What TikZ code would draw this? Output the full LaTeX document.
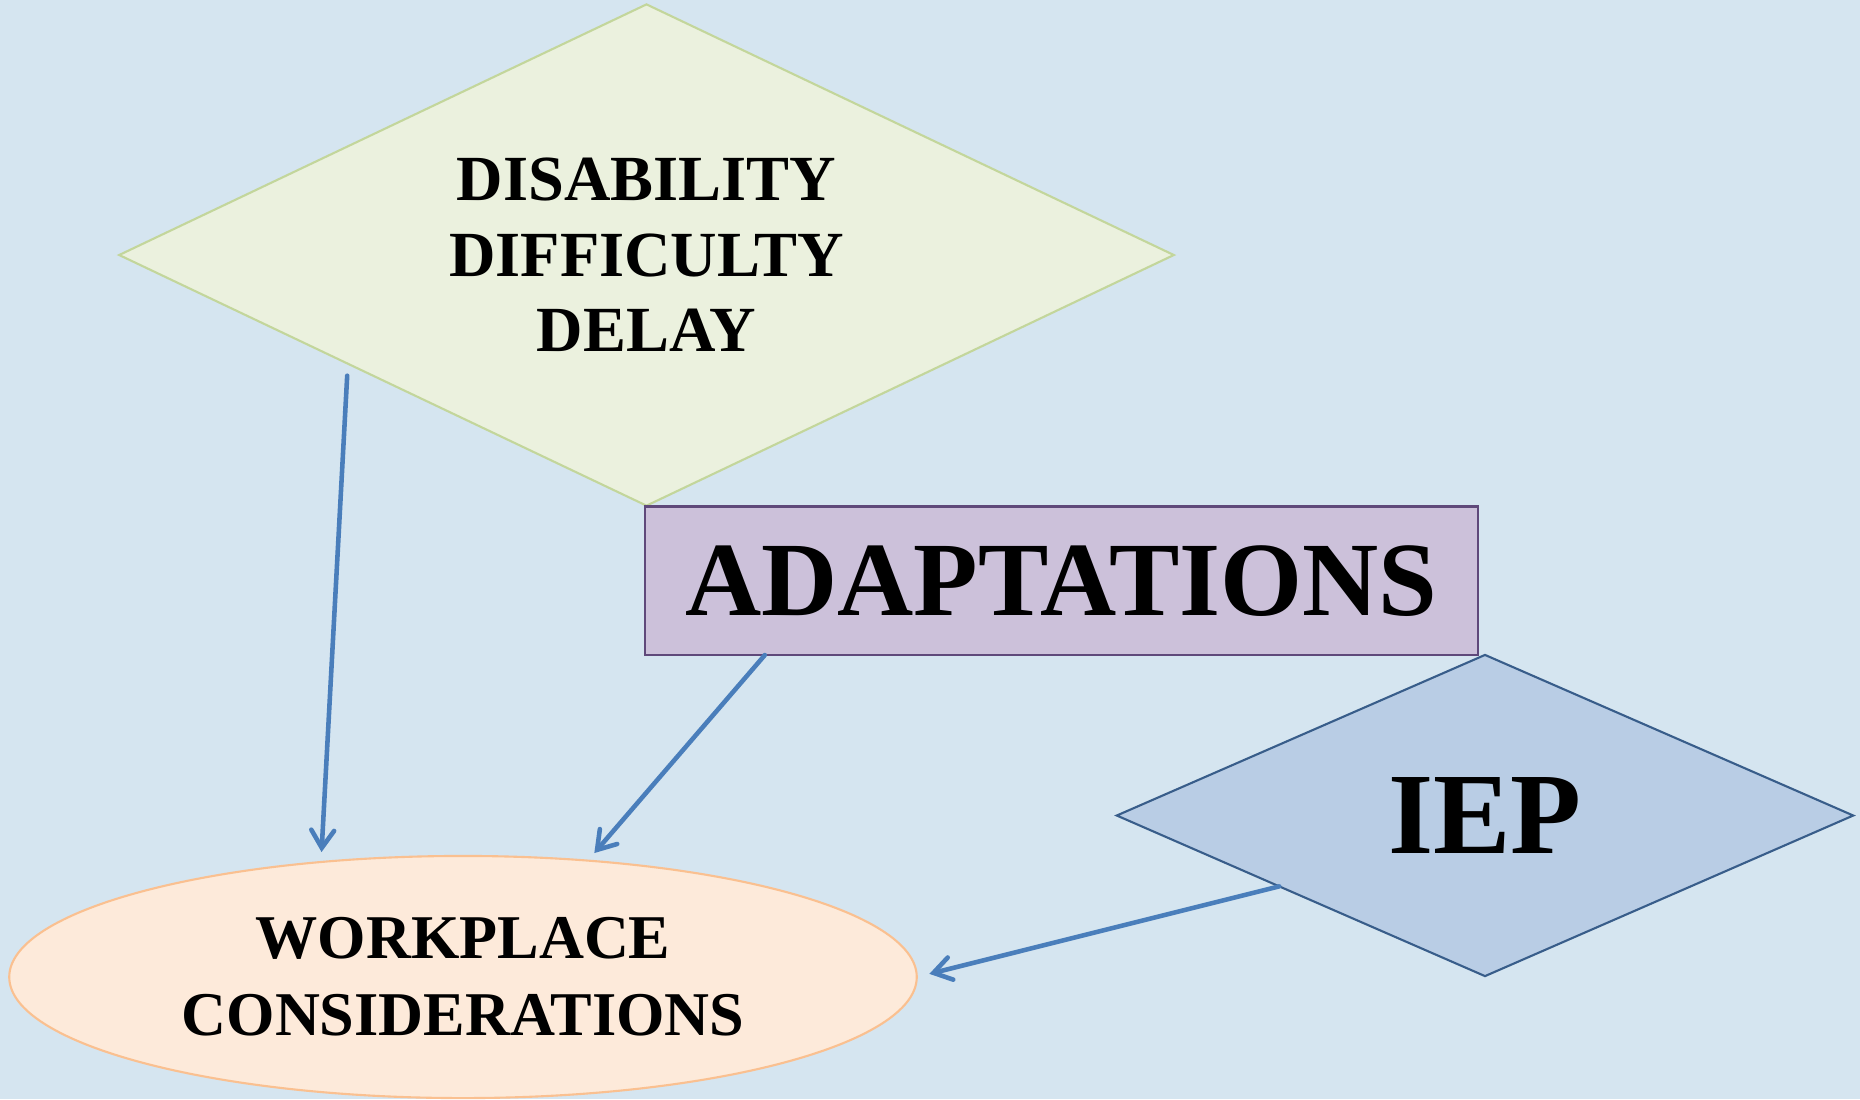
\documentclass[tikz,border=0pt]{standalone}
\usepackage{fontspec}
\setmainfont{Liberation Serif}
\usetikzlibrary{arrows.meta,shapes.geometric}

\definecolor{bgblue}{HTML}{D5E5F0}
\definecolor{disfill}{HTML}{EBF1DE}
\definecolor{disline}{HTML}{C3D69B}
\definecolor{adfill}{HTML}{CCC1DA}
\definecolor{adline}{HTML}{5F497A}
\definecolor{iepfill}{HTML}{B9CDE5}
\definecolor{iepline}{HTML}{385D8A}
\definecolor{wpfill}{HTML}{FDEADA}
\definecolor{wpline}{HTML}{FAC090}
\definecolor{arrowblue}{HTML}{4A7EBB}

\begin{document}
\begin{tikzpicture}[x=0.01cm,y=-0.01cm,
    box/.style={align=center, inner sep=0pt, outer sep=0pt, line width=0.6pt},
    arr/.style={-{Straight Barb[length=5pt,width=6.5pt,line cap=round]}, line width=1.3pt, draw=arrowblue, line cap=round}]
    % background
    \fill[bgblue] (0,0) rectangle (1860,1099);
    \useasboundingbox (0,0) rectangle (1860,1099);

    % nodes
    \node (dis) at (646.5,255) [diamond,box,shape aspect=2.1,minimum width=10.54cm,minimum height=5.01cm,fill=disfill,draw=disline,
        font=\fontsize{18.3pt}{21.5pt}\selectfont\bfseries] {DISABILITY\\DIFFICULTY\\DELAY};
    \node (ad) at (1061.5,580.75) [rectangle,box,minimum width=8.33cm,minimum height=1.485cm,fill=adfill,draw=adline,
        font=\fontsize{30pt}{34pt}\selectfont\bfseries] {ADAPTATIONS};
    \node (iep) at (1485,815.5) [diamond,box,shape aspect=2.3,minimum width=7.36cm,minimum height=3.21cm,fill=iepfill,draw=iepline,
        font=\fontsize{33pt}{38pt}\selectfont\bfseries] {IEP};
    \node (wp) at (463,977) [ellipse,box,minimum width=9.07cm,minimum height=2.42cm,fill=wpfill,draw=wpline,
        font=\fontsize{17.7pt}{21.8pt}\selectfont\bfseries] {WORKPLACE\\CONSIDERATIONS};

    % paths
    \draw[arr,shorten <=0.12cm,shorten >=0.1cm] (dis.200.3) -- (wp.141.7); % Disability -> Workplace
    \draw[arr,shorten >=0.1cm] ([xshift=1.2cm]ad.south west) -- (wp.43.5); % Adaptations -> Workplace
    \draw[arr,shorten >=0.13cm] (iep.199) -- (wp.east); % IEP -> Workplace

\end{tikzpicture}
\end{document}
